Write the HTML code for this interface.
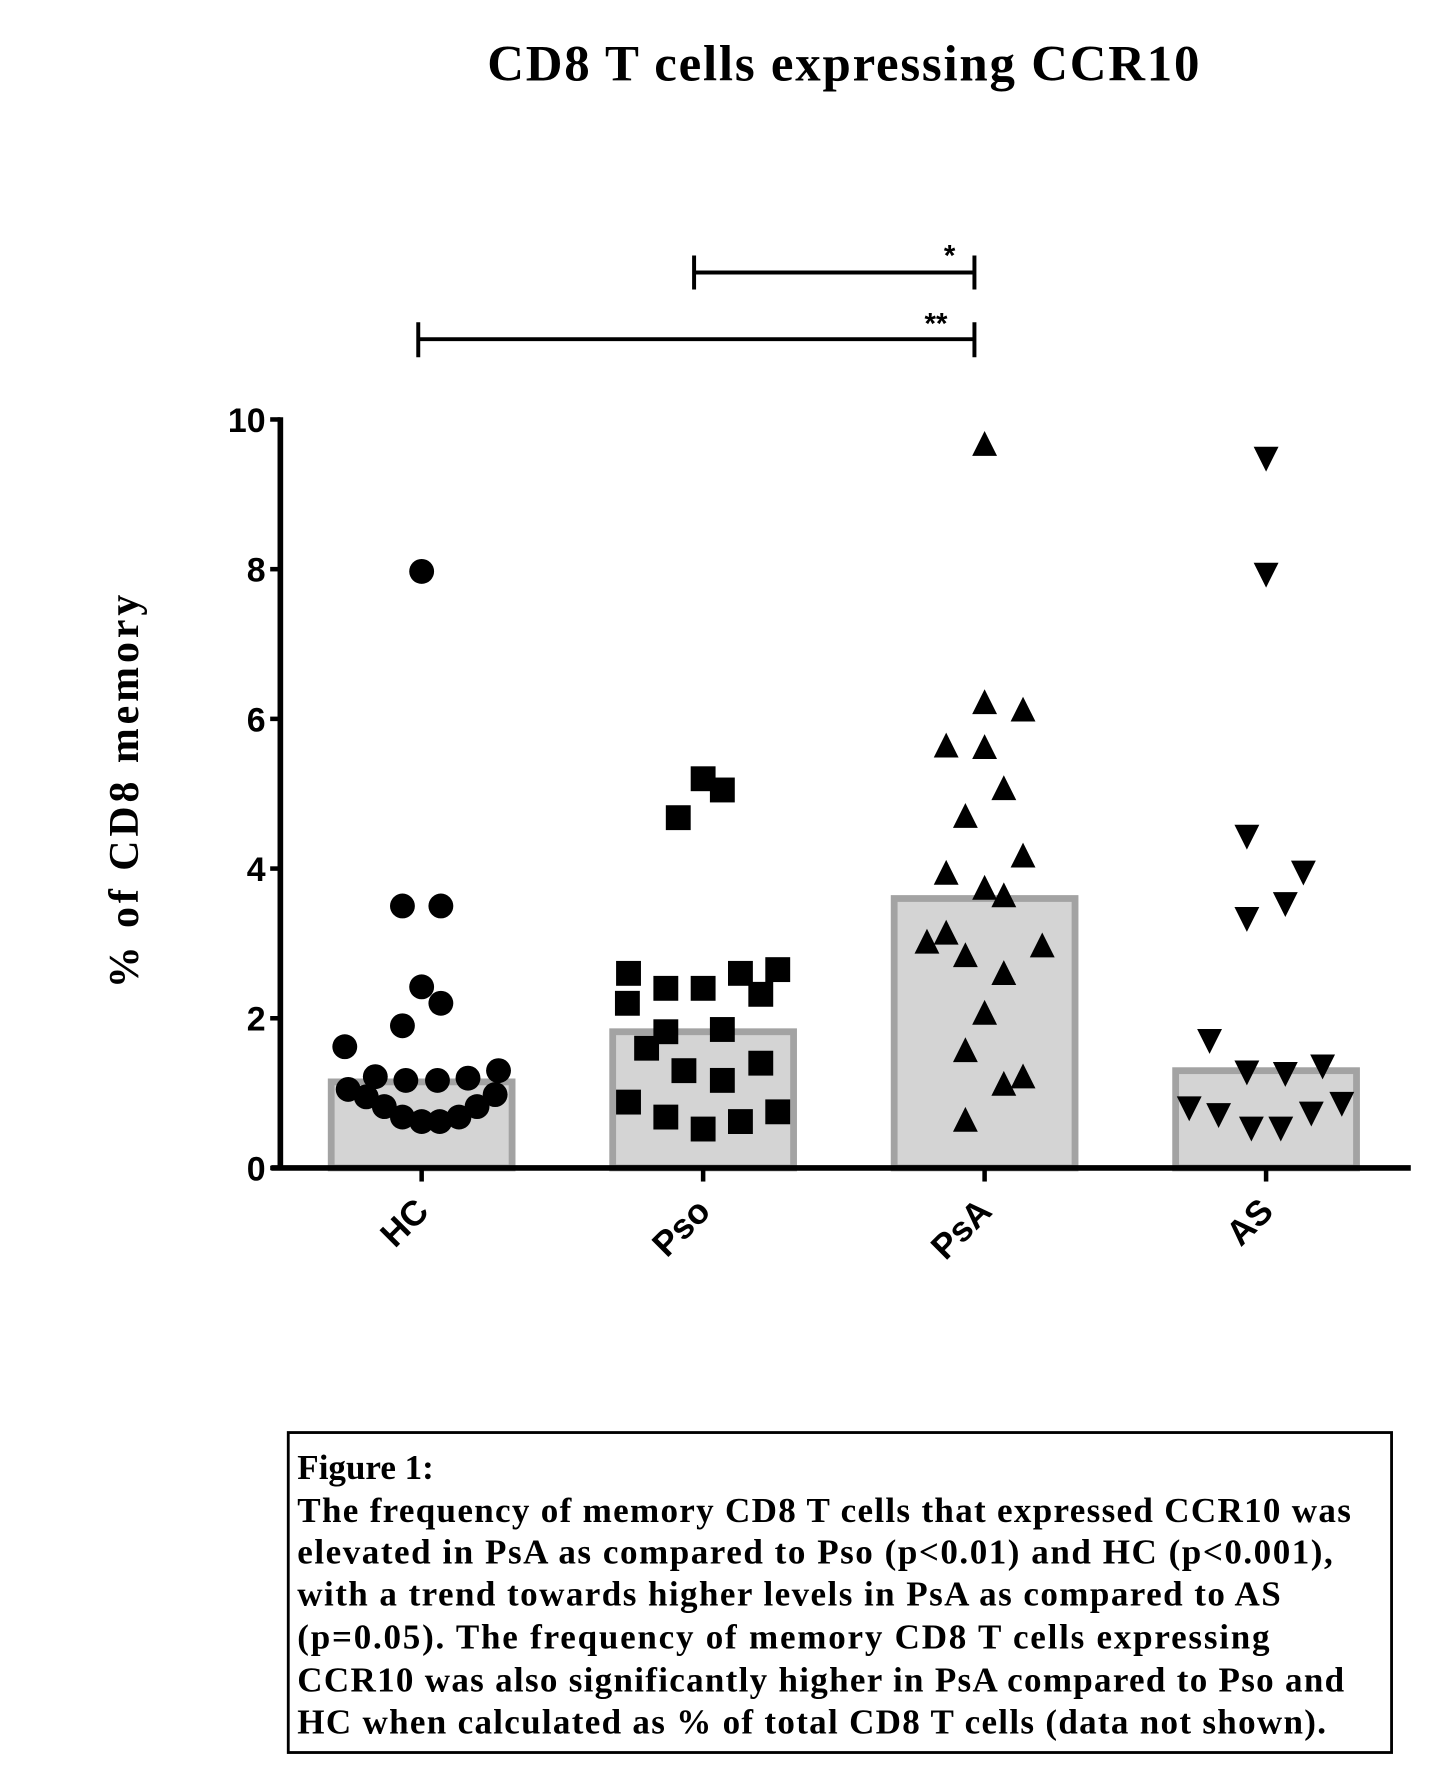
<!DOCTYPE html>
<html><head><meta charset="utf-8"><style>
html,body{margin:0;padding:0;background:#fff;}
svg{display:block;}
</style></head><body>
<svg id="chart" width="1430" height="1774" viewBox="0 0 1265 1569" preserveAspectRatio="none" xmlns="http://www.w3.org/2000/svg">
<text x="746" y="71" text-anchor="middle" font-family="Liberation Serif, serif" font-weight="bold" font-size="45" textLength="630">CD8 T cells expressing CCR10</text>
<g id="sig" stroke="#000" stroke-width="3.5" fill="none">
<path d="M614 226 V256 M614 241 H862 M862 226 V256"/>
<path d="M370 285 V316 M370 300 H862 M862 285 V316"/>
</g>
<text x="840" y="235" font-family="Liberation Sans, sans-serif" font-weight="bold" font-size="26" text-anchor="middle">*</text>
<text x="828" y="295" font-family="Liberation Sans, sans-serif" font-weight="bold" font-size="26" text-anchor="middle">**</text>
<text transform="translate(122,700) rotate(-90)" text-anchor="middle" font-family="Liberation Serif, serif" font-weight="bold" font-size="37" textLength="348">% of CD8 memory</text>
<g id="bars"></g>
<g id="points"></g>
<g id="axes"></g>
<g>
<rect x="255" y="1267" width="976" height="283" fill="none" stroke="#000" stroke-width="2.5"/>
<g font-family="Liberation Serif, serif" font-weight="bold" font-size="31">
<text x="263" y="1308">Figure 1:</text>
<text x="263" y="1346" textLength="932">The frequency of memory CD8 T cells that expressed CCR10 was</text>
<text x="263" y="1383" textLength="916">elevated in PsA as compared to Pso (p&lt;0.01) and HC (p&lt;0.001),</text>
<text x="263" y="1420" textLength="870">with a trend towards higher levels in PsA as compared to AS</text>
<text x="263" y="1458" textLength="860">(p=0.05). The frequency of memory  CD8 T cells expressing</text>
<text x="263" y="1496" textLength="926">CCR10 was also significantly higher in  PsA compared to Pso and</text>
<text x="263" y="1533" textLength="910">HC when calculated as % of total CD8 T cells (data not shown).</text>
</g></g>
</svg>
<script>
const categories = ['HC','Pso','PsA','AS'];
const means = [1.15, 1.82, 3.6, 1.3];
const yTicks = [0,2,4,6,8,10];
const hcValues = [7.97,3.5,3.5,2.42,2.2,1.9,1.62,1.22,1.17,1.17,1.2,1.3,1.05,0.95,0.82,0.68,0.62,0.62,0.68,0.82,0.98];
const hcJitter = [0,-17,17,0,17,-17,-68,-41,-14,14,41,68,-65,-49,-33,-17,0,16,33,49,65];
const psoValues = [4.68,5.2,5.05,2.6,2.2,2.4,2.4,2.6,2.32,2.65,1.82,1.85,1.6,1.3,1.17,1.4,0.88,0.68,0.52,0.62,0.75];
const psoJitter = [-22,0,17,-66,-67,-33,0,33,51,66,-33,17,-50,-17,17,51,-66,-33,0,33,66];
const psaValues = [9.65,6.2,6.1,5.62,5.6,5.05,4.68,4.15,3.92,3.72,3.62,3.12,3.0,2.95,2.82,2.58,2.05,1.55,1.2,1.1,0.62];
const psaJitter = [0,0,34,-34,0,17,-17,34,-34,0,17,-34,-51,51,-17,17,0,-17,34,17,-17];
const asValues = [9.5,7.95,4.45,3.97,3.55,3.35,1.72,1.3,1.28,1.38,0.82,0.73,0.55,0.55,0.75,0.88];
const asJitter = [0,0,-17,33,17,-17,-50,-17,17,50,-68,-42,-13,13,40,67];

const NS='http://www.w3.org/2000/svg';
const x0=248, xEnd=1248, yBase=1033, yTop=371;
const yS=v=>yBase-(v/10)*(yBase-yTop);
const xC=i=>373+i*249;
function mk(t,a,p){const e=document.createElementNS(NS,t);for(const k in a)e.setAttribute(k,a[k]);p.appendChild(e);return e;}
const bars=document.getElementById('bars'), pts=document.getElementById('points'), axes=document.getElementById('axes');
means.forEach((m,i)=>{
  const r=mk('rect',{x:xC(i)-80,y:yS(m),width:160,height:yBase-yS(m),fill:'#d4d4d4',stroke:'#a3a3a3','stroke-width':6},bars);
  
  
});
function circle(cx,cy){return mk('circle',{cx,cy,r:11,fill:'#000'},pts);}
function square(cx,cy){return mk('rect',{x:cx-11,y:cy-11,width:22,height:22,fill:'#000'},pts);}
function up(cx,cy){return mk('polygon',{points:`${cx},${cy-13} ${cx+11},${cy+9} ${cx-11},${cy+9}`,fill:'#000'},pts);}
function down(cx,cy){return mk('polygon',{points:`${cx-11},${cy-9} ${cx+11},${cy-9} ${cx},${cy+13}`,fill:'#000'},pts);}
const groups=[[hcValues,hcJitter,circle],[psoValues,psoJitter,square],[psaValues,psaJitter,up],[asValues,asJitter,down]];
groups.forEach(([vals,jit,fn],i)=>{vals.forEach((v,j)=>{
  const e=fn(xC(i)+jit[j],yS(v));
  
  
});});
const ya=mk('line',{x1:x0,y1:yTop-2,x2:x0,y2:yBase+2,stroke:'#000','stroke-width':5},axes);


const xa=mk('line',{x1:x0-8,y1:yBase,x2:xEnd,y2:yBase,stroke:'#000','stroke-width':5},axes);


yTicks.forEach(t=>{
  mk('line',{x1:x0-9,y1:yS(t),x2:x0,y2:yS(t),stroke:'#000','stroke-width':4},axes);
  const tx=mk('text',{x:x0-13,y:yS(t)+11,'text-anchor':'end','font-family':'Liberation Sans, sans-serif','font-weight':'bold','font-size':30},axes);
  tx.textContent=t;
  
  
});
categories.forEach((c,i)=>{
  mk('line',{x1:xC(i),y1:yBase,x2:xC(i),y2:yBase+12,stroke:'#000','stroke-width':4},axes);
  const tx=mk('text',{transform:`translate(${xC(i)+8},${yBase+40}) rotate(-45)`,'text-anchor':'end','font-family':'Liberation Sans, sans-serif','font-weight':'bold','font-size':31},axes);
  tx.textContent=c;
  
  
});
</script>
</body></html>
